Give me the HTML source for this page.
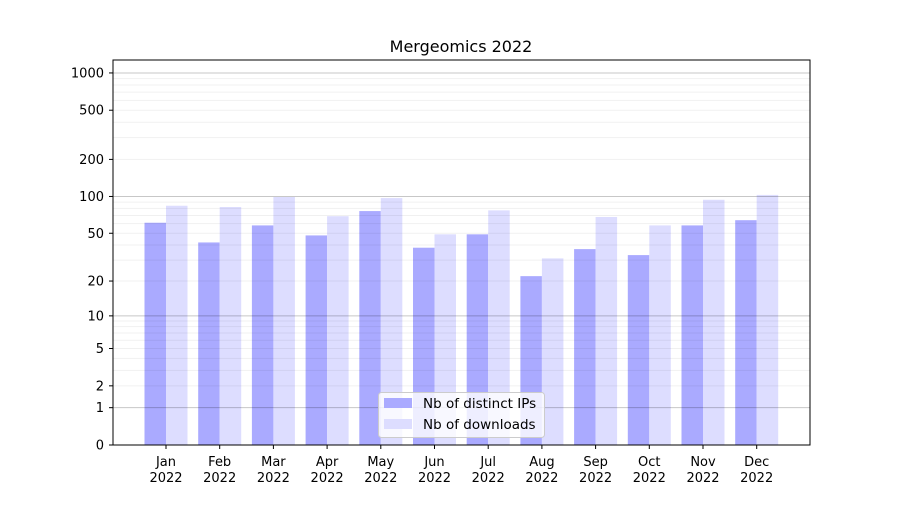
<!DOCTYPE html>
<html><head><meta charset="utf-8"><style>
body{margin:0;background:#fff;}
svg text{font-family:"DejaVu Sans","Liberation Sans",sans-serif;fill:#000;}
</style></head><body>
<svg id="c" width="900" height="500" xmlns="http://www.w3.org/2000/svg">
<rect x="0" y="0" width="900" height="500" fill="#fff"/>
<text x="461" y="52" font-size="16" text-anchor="middle">Mergeomics 2022</text>
<g id="bars"></g><g id="grid"></g><g id="axes"></g>
<rect x="113" y="60" width="697" height="385" fill="none" stroke="#000" stroke-width="1"/>
<g>
<rect x="378.5" y="392.5" width="166" height="45" rx="3" fill="#fff" fill-opacity="0.8" stroke="#ccc"/>
<rect x="384" y="398" width="28" height="10" fill="#aaaaff"/>
<text x="423" y="408" font-size="13.5">Nb of distinct IPs</text>
<rect x="384" y="419" width="28" height="10" fill="#ddddff"/>
<text x="423" y="429" font-size="13.5">Nb of downloads</text>
</g>
</svg>
<script>
const months=["Jan","Feb","Mar","Apr","May","Jun","Jul","Aug","Sep","Oct","Nov","Dec"];
const ips=[61,42,58,48,76,38,49,22,37,33,58,64];
const downloads=[84,82,99,69,97,49,77,31,68,58,94,103];
const yTicks=[0,1,2,5,10,20,50,100,200,500,1000];
const NS="http://www.w3.org/2000/svg";
function y(v){return 445-124*Math.log10(1+v);}
function xc(i){return 166+i*53.7;}
function mk(t,a,p){const e=document.createElementNS(NS,t);for(const k in a)e.setAttribute(k,a[k]);p.appendChild(e);return e;}
const bars=document.getElementById('bars'),grid=document.getElementById('grid'),axes=document.getElementById('axes');
months.forEach((m,i)=>{
  const b1=mk('rect',{x:xc(i)-21.5,y:y(ips[i]),width:21.5,height:445-y(ips[i]),fill:'#aaaaff'},bars);
  
  
  const b2=mk('rect',{x:xc(i),y:y(downloads[i]),width:21.5,height:445-y(downloads[i]),fill:'#ddddff'},bars);
  
  
  mk('line',{x1:xc(i),x2:xc(i),y1:445,y2:449,stroke:'#000'},axes);
  const t=mk('text',{x:xc(i),y:466,'font-size':13,'text-anchor':'middle'},axes);
  t.textContent=m;
  
  
  const t2=mk('text',{x:xc(i),y:482,'font-size':13,'text-anchor':'middle'},axes);
  t2.textContent='2022';
  
  
});
[1,10,100,1000].forEach(d=>{
  for(let k=1;k<=9;k++){const v=d*k;if(y(v)<60)break;
    const gl=mk('line',{x1:113,x2:810,y1:y(v),y2:y(v),stroke:k==1?'rgba(0,0,0,0.22)':'rgba(0,0,0,0.06)','stroke-width':1},grid);
    
    }
});
yTicks.forEach(v=>{
  mk('line',{x1:109,x2:113,y1:y(v),y2:y(v),stroke:'#000'},axes);
  const t=mk('text',{x:104,y:y(v)+4.5,'font-size':13,'text-anchor':'end'},axes);
  t.textContent=v;
  
  
});
</script>
</body></html>
